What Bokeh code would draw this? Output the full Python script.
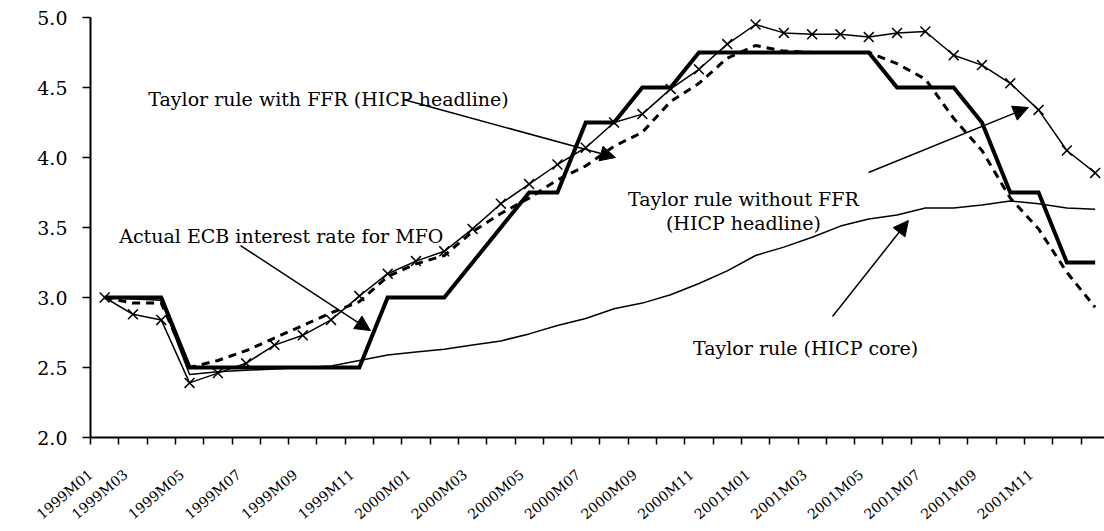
import math
from bokeh.plotting import figure
from bokeh.models import (Range1d, FixedTicker, Label, Arrow, NormalHead,
                          PrintfTickFormatter, LinearAxis)
from bokeh.embed import file_html
from bokeh.resources import INLINE

# ---- data -------------------------------------------------------------
months = [f"{y}M{m:02d}" for y in (1999, 2000, 2001) for m in range(1, 13)]

ecb_rate = [3.00, 3.00, 3.00, 2.50, 2.50, 2.50, 2.50, 2.50, 2.50, 2.50,
            3.00, 3.00, 3.00, 3.25, 3.50, 3.75, 3.75, 4.25, 4.25, 4.50,
            4.50, 4.75, 4.75, 4.75, 4.75, 4.75, 4.75, 4.75, 4.50, 4.50,
            4.50, 4.25, 3.75, 3.75, 3.25, 3.25]

taylor_with_ffr = [3.00, 2.96, 2.96, 2.50, 2.55, 2.62, 2.71, 2.80, 2.89, 2.97,
                   3.15, 3.24, 3.30, 3.47, 3.60, 3.71, 3.84, 3.94, 4.08, 4.18,
                   4.40, 4.53, 4.71, 4.80, 4.76, 4.75, 4.75, 4.75, 4.67, 4.56,
                   4.28, 4.05, 3.71, 3.49, 3.18, 2.93]

taylor_without_ffr = [3.00, 2.88, 2.84, 2.39, 2.46, 2.53, 2.66, 2.73, 2.84, 3.01,
                      3.17, 3.26, 3.33, 3.49, 3.67, 3.81, 3.95, 4.07, 4.25, 4.31,
                      4.49, 4.63, 4.81, 4.95, 4.89, 4.88, 4.88, 4.86, 4.89, 4.90,
                      4.73, 4.66, 4.53, 4.34, 4.05, 3.89]

taylor_core = [3.00, 2.99, 2.98, 2.45, 2.47, 2.48, 2.49, 2.50, 2.51, 2.55,
               2.59, 2.61, 2.63, 2.66, 2.69, 2.74, 2.80, 2.85, 2.92, 2.96,
               3.02, 3.10, 3.19, 3.30, 3.36, 3.43, 3.51, 3.56, 3.59, 3.64,
               3.64, 3.66, 3.69, 3.67, 3.64, 3.63]

y_ticks = [2.0, 2.5, 3.0, 3.5, 4.0, 4.5, 5.0]

idx = list(range(len(months)))

FONT = "DejaVu Serif"

# ---- figure -----------------------------------------------------------
p = figure(width=1104, height=531, output_backend="svg", toolbar_location=None,
           x_range=Range1d(-0.5, 35.33), y_range=Range1d(2, 5),
           min_border_left=90, min_border_right=0, min_border_top=17,
           min_border_bottom=94, background_fill_color="white")
p.outline_line_color = None
p.grid.visible = False

# main x axis: axis line and tick marks between months (no labels)
boundaries = [k - 0.5 for k in range(len(months) + 1)]
p.xaxis.ticker = FixedTicker(ticks=boundaries)
p.xaxis.major_label_overrides = {b: "" for b in boundaries}
p.xaxis.major_label_text_font_size = "1px"
p.xaxis.major_label_standoff = 0
p.xaxis.major_tick_out = 7

# label x axis: month names every second month, slanted, hanging below
LAB_SHIFT = 1.26
lab_months = list(range(0, len(months), 2))
lab_pos = [max(round(k - LAB_SHIFT, 2), -0.49) for k in lab_months]
lab_axis = LinearAxis(
    ticker=FixedTicker(ticks=lab_pos),
    major_label_overrides={pos: months[k] for pos, k in zip(lab_pos, lab_months)},
    major_label_orientation=math.radians(40),
    major_label_standoff=28,
    major_label_text_font=FONT,
    major_label_text_font_size="14px",
    major_label_text_color="black",
    axis_line_color=None,
    major_tick_line_color=None,
    minor_tick_line_color=None,
    major_tick_in=0, major_tick_out=0,
)
p.add_layout(lab_axis, "below")

# y axis
p.yaxis.ticker = FixedTicker(ticks=y_ticks)
p.yaxis.formatter = PrintfTickFormatter(format="%.1f")
p.yaxis.major_label_text_font = FONT
p.yaxis.major_label_text_font_size = "19px"
p.yaxis.major_label_standoff = 15
p.yaxis.major_tick_out = 8

for ax in (p.xaxis[0], p.yaxis[0]):
    ax.axis_line_color = "black"
    ax.axis_line_width = 2
    ax.major_tick_line_color = "black"
    ax.major_tick_line_width = 1.5
    ax.major_tick_in = 0
    ax.minor_tick_line_color = None
    ax.major_label_text_color = "black"

# ---- series -----------------------------------------------------------
p.line(idx, taylor_core, line_color="black", line_width=1.5)
p.line(idx, taylor_without_ffr, line_color="black", line_width=1.5)
p.scatter(idx, taylor_without_ffr, marker="x", size=14, line_color="black", line_width=1.5)
p.line(idx, taylor_with_ffr, line_color="black", line_width=3, line_dash="8 6")
p.line(idx, ecb_rate, line_color="black", line_width=4, line_join="miter")

# ---- annotations ------------------------------------------------------
def add_label(x, y, text, align="center"):
    p.add_layout(Label(x=x, y=y, text=text, text_font=FONT, text_font_size="19px",
                       text_color="black", text_align=align, text_baseline="alphabetic"))

def add_arrow(x0, y0, x1, y1):
    p.add_layout(Arrow(x_start=x0, y_start=y0, x_end=x1, y_end=y1,
                       line_color="black", line_width=1.5,
                       end=NormalHead(size=15, fill_color="black", line_color="black")))

add_label(7.91, 4.421, "Taylor rule with FFR (HICP headline)")
add_arrow(10.56, 4.414, 18.05, 4.00)

add_label(11.97, 3.436, "Actual ECB interest rate for MFO", align="right")
add_arrow(4.80, 3.371, 9.39, 2.764)

add_label(22.57, 3.707, "Taylor rule without FFR")
add_label(22.57, 3.529, "(HICP headline)")
add_arrow(26.99, 3.893, 32.64, 4.357)

add_label(24.77, 2.636, "Taylor rule (HICP core)")
add_arrow(25.72, 2.864, 28.40, 3.55)

open("out.html", "w").write(file_html(p, INLINE))
